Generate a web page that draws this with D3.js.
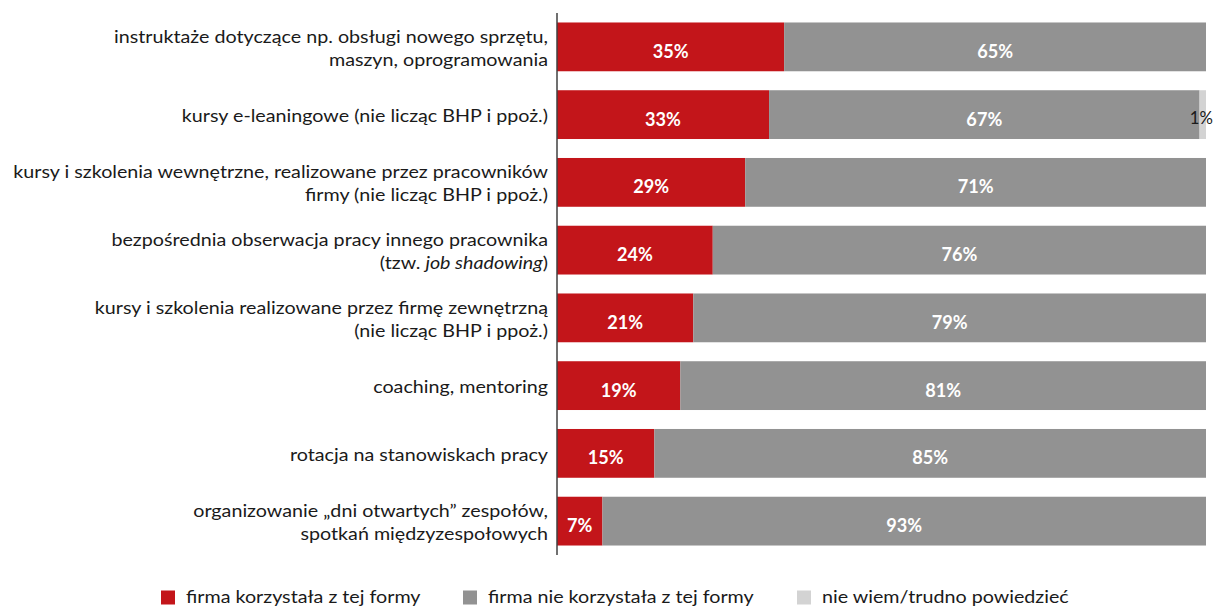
<!DOCTYPE html>
<html>
<head>
<meta charset="utf-8">
<script src="https://cdn.jsdelivr.net/npm/d3@7"></script>
<style>
  html, body { margin: 0; padding: 0; background: #fff; }
  svg { display: block; }
  text { font-family: Lato, "Open Sans", sans-serif; }
</style>
</head>
<body>
<svg id="chart" width="1216" height="607"></svg>
<script>
// Forms of training used by companies (share of firms, %)
const categories = [
  "instruktaże dotyczące np. obsługi nowego sprzętu,|maszyn, oprogramowania",
  "kursy e-leaningowe (nie licząc BHP i ppoż.)",
  "kursy i szkolenia wewnętrzne, realizowane przez pracowników|firmy (nie licząc BHP i ppoż.)",
  "bezpośrednia obserwacja pracy innego pracownika|(tzw. *job shadowing*)",
  "kursy i szkolenia realizowane przez firmę zewnętrzną|(nie licząc BHP i ppoż.)",
  "coaching, mentoring",
  "rotacja na stanowiskach pracy",
  "organizowanie „dni otwartych” zespołów,|spotkań międzyzespołowych"
];
const used     = [35, 33, 29, 24, 21, 19, 15, 7];
const notUsed  = [65, 67, 71, 76, 79, 81, 85, 93];
const dontKnow = [0, 1, 0, 0, 0, 0, 0, 0];

const seriesNames = ["firma korzystała z tej formy", "firma nie korzystała z tej formy", "nie wiem/trudno powiedzieć"];
const seriesColors = ["#c3151a", "#929292", "#d3d3d3"];
const labelColors = ["#ffffff", "#ffffff", "#1a1a1a"];
const labelWeights = ["bold", "bold", "normal"];
const labelSizes = [19.5, 19.5, 18];

const svg = d3.select("#chart");
const axisX = 557;
const x = d3.scaleLinear().domain([0, 1]).range([axisX, 1206]);
const y = d3.scaleBand().domain(d3.range(categories.length)).range([13, 555])
  .paddingInner(0.28).paddingOuter(0.14);

// 100% stacked rows: each row normalised by its own total
const rows = categories.map((c, i) => {
  const vals = [used[i], notUsed[i], dontKnow[i]];
  const total = d3.sum(vals);
  let acc = 0;
  return vals.map((v, k) => {
    const seg = { row: i, series: k, value: v, x0: acc / total, x1: (acc + v) / total };
    acc += v;
    return seg;
  });
});
const segments = rows.flat().filter(d => d.value > 0);

svg.append("g").selectAll("rect").data(segments).join("rect")
  .attr("x", d => x(d.x0))
  .attr("width", d => x(d.x1) - x(d.x0))
  .attr("y", d => y(d.row))
  .attr("height", y.bandwidth())
  .attr("fill", d => seriesColors[d.series]);

// Value labels centred in each segment
svg.append("g").selectAll("text").data(segments).join("text")
  .attr("transform", d => {
    const cx = (x(d.x0) + x(d.x1)) / 2 - (d.series === 2 ? 1.5 : 0);
    const cy = y(d.row) + y.bandwidth() / 2;
    return `translate(${cx},${cy}) scale(0.93,1)`;
  })
  .attr("dy", d => d.series === 2 ? "0.5em" : "0.56em")
  .attr("text-anchor", "middle")
  .attr("font-size", d => labelSizes[d.series])
  .attr("font-weight", d => labelWeights[d.series])
  .attr("fill", d => labelColors[d.series])
  .text(d => d.value + "%");

// Vertical category axis line
svg.append("line")
  .attr("x1", axisX).attr("x2", axisX)
  .attr("y1", y.range()[0]).attr("y2", y.range()[1])
  .attr("stroke", "#404040").attr("stroke-width", 1.5);

// Category labels, right aligned, wrapped lines centred on the bar
const labelRight = 548;
const catG = svg.append("g");
const lineH = 23;
categories.forEach((c, i) => {
  const lines = c.split("|");
  const cy = y(i) + y.bandwidth() / 2;
  lines.forEach((ln, j) => {
    const t = catG.append("text")
      .attr("x", labelRight)
      .attr("y", cy + (j - (lines.length - 1) / 2) * lineH)
      .attr("dy", "0.42em")
      .attr("text-anchor", "end")
      .attr("font-size", 18)
      .attr("fill", "#1a1a1a");
    ln.split("*").forEach((part, p) => {
      if (part) t.append("tspan").attr("font-style", p % 2 ? "italic" : "normal").text(part);
    });
  });
});
// Compress the labels horizontally so the widest line spans its column
const widest = d3.max(catG.selectAll("text").nodes(), n => n.getComputedTextLength());
const sx = 535 / widest;
catG.attr("transform", `translate(${labelRight},0) scale(${sx},1) translate(${-labelRight},0)`);

// Legend
const legendX = [161, 463, 797];
const legend = svg.append("g");
seriesNames.forEach((name, k) => {
  legend.append("rect")
    .attr("x", legendX[k]).attr("y", 590.5)
    .attr("width", 14).attr("height", 14)
    .attr("fill", seriesColors[k]);
  legend.append("text")
    .attr("x", 0).attr("y", 603.5)
    .attr("font-size", 18)
    .attr("fill", "#1a1a1a")
    .attr("transform", `translate(${legendX[k] + 25},0) scale(${sx},1)`)
    .text(name);
});
</script>
</body>
</html>
